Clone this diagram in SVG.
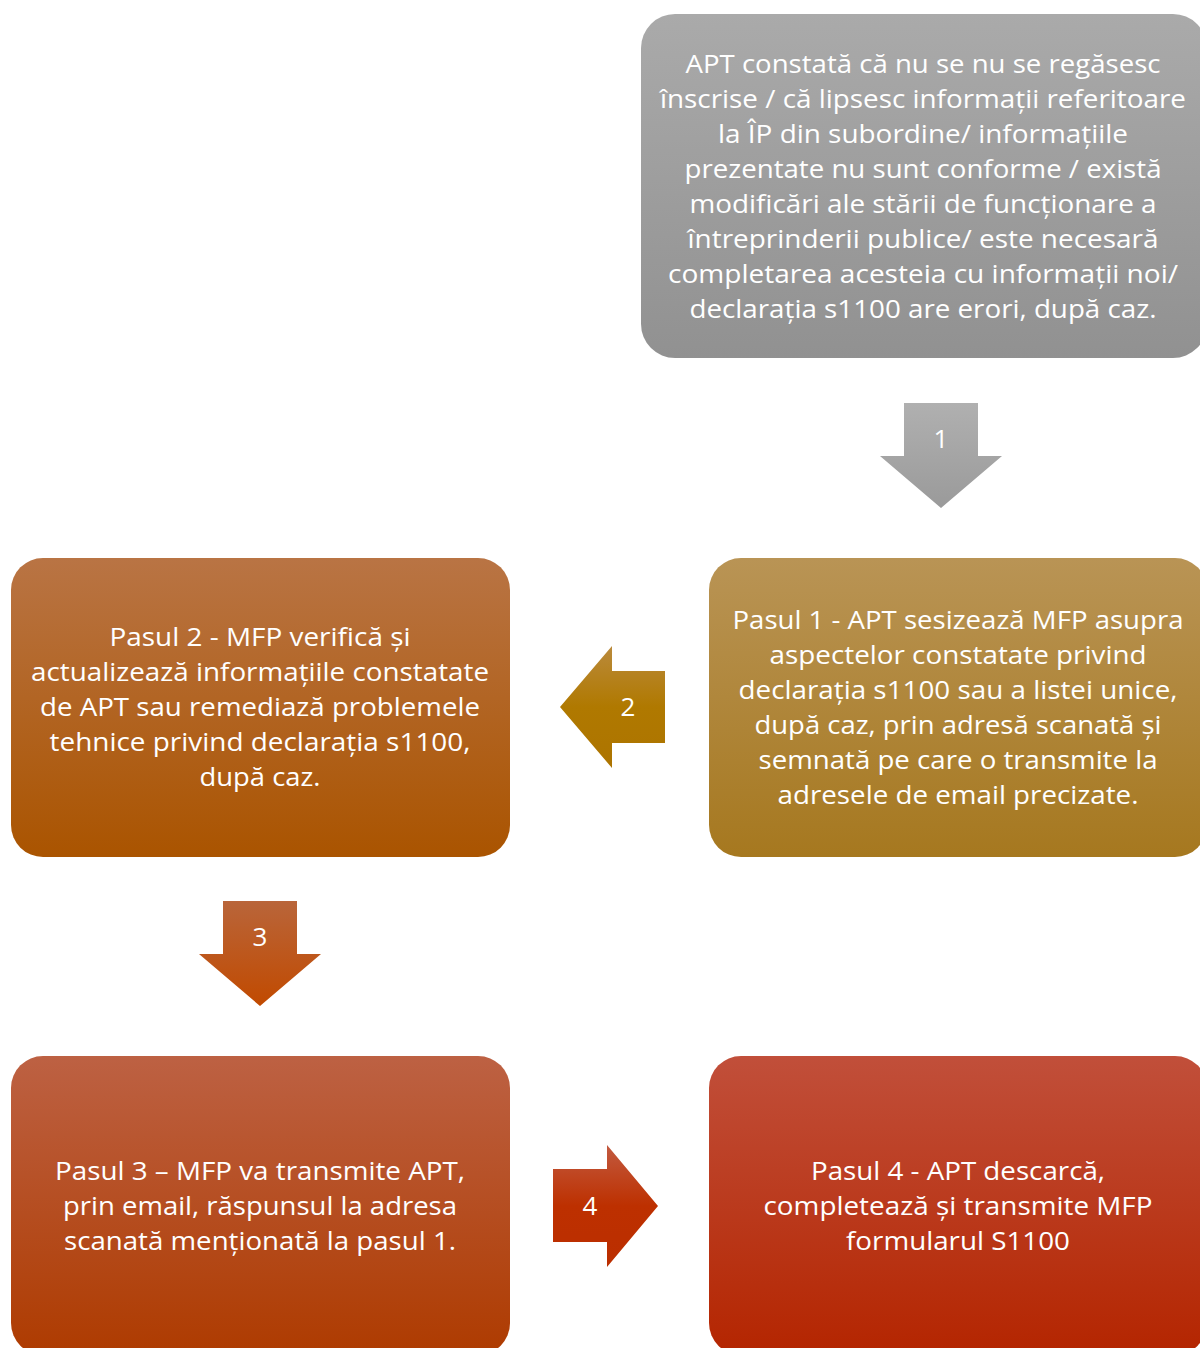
<svg xmlns="http://www.w3.org/2000/svg" width="1200" height="1348" viewBox="0 0 1200 1348">
<defs>
<linearGradient id="g0" x1="0" y1="0" x2="0" y2="1"><stop offset="0" stop-color="#aaaaaa"/><stop offset="1" stop-color="#919191"/></linearGradient>
<linearGradient id="g1" x1="0" y1="0" x2="0" y2="1"><stop offset="0" stop-color="#b99455"/><stop offset="1" stop-color="#a6781f"/></linearGradient>
<linearGradient id="g2" x1="0" y1="0" x2="0" y2="1"><stop offset="0" stop-color="#b97444"/><stop offset="1" stop-color="#aa5400"/></linearGradient>
<linearGradient id="g3" x1="0" y1="0" x2="0" y2="1"><stop offset="0" stop-color="#bd6143"/><stop offset="1" stop-color="#ae3b00"/></linearGradient>
<linearGradient id="g4" x1="0" y1="0" x2="0" y2="1"><stop offset="0" stop-color="#c14f3a"/><stop offset="1" stop-color="#b42500"/></linearGradient>
<linearGradient id="a1" x1="0" y1="0" x2="0" y2="1"><stop offset="0" stop-color="#b0b0b0"/><stop offset="1" stop-color="#9a9a9a"/></linearGradient>
<linearGradient id="a2" x1="0" y1="0" x2="0" y2="1"><stop offset="0" stop-color="#ba8a3c"/><stop offset="0.5" stop-color="#b07900"/><stop offset="1" stop-color="#ad7400"/></linearGradient>
<linearGradient id="a3" x1="0" y1="0" x2="0" y2="1"><stop offset="0" stop-color="#b9653a"/><stop offset="1" stop-color="#c14a00"/></linearGradient>
<linearGradient id="a4" x1="0" y1="0" x2="0" y2="1"><stop offset="0" stop-color="#c25a40"/><stop offset="0.5" stop-color="#bd3000"/><stop offset="1" stop-color="#bb2e00"/></linearGradient>
</defs>
<style>
text{font-family:"Open Sans","Liberation Sans",sans-serif;fill:#ffffff;text-anchor:middle}
.t{font-size:26px}
.n{font-size:26px}
</style>
<rect width="1200" height="1348" fill="#ffffff"/>
<g id="connectors">
<g id="arrow1"><polygon points="904,403 978,403 978,456 1002,456 941,508 880,456 904,456" fill="url(#a1)"/><text class="n" x="941" y="448">1</text></g>
<g id="arrow2"><polygon points="665,671 665,743 612,743 612,768 560,707 612,646 612,671" fill="url(#a2)"/><text class="n" x="628" y="716">2</text></g>
<g id="arrow3"><polygon points="223,901 297,901 297,954 321,954 260,1006 199,954 223,954" fill="url(#a3)"/><text class="n" x="260" y="946">3</text></g>
<g id="arrow4"><polygon points="553,1169 607,1169 607,1145 658,1206 607,1267 607,1242 553,1242" fill="url(#a4)"/><text class="n" x="590" y="1215">4</text></g>
</g>
<g id="node0">
<rect x="641" y="14" width="566" height="344" rx="34" fill="url(#g0)"/>
<text class="t" x="923" y="73" textLength="475" lengthAdjust="spacingAndGlyphs">APT constată că nu se nu se regăsesc</text>
<text class="t" x="923" y="108" textLength="526" lengthAdjust="spacingAndGlyphs">înscrise / că lipsesc informații referitoare</text>
<text class="t" x="923" y="143" textLength="410" lengthAdjust="spacingAndGlyphs">la ÎP din subordine/ informațiile</text>
<text class="t" x="923" y="178" textLength="477" lengthAdjust="spacingAndGlyphs">prezentate nu sunt conforme / există</text>
<text class="t" x="923" y="213" textLength="467" lengthAdjust="spacingAndGlyphs">modificări ale stării de funcționare a</text>
<text class="t" x="923" y="248" textLength="471" lengthAdjust="spacingAndGlyphs">întreprinderii publice/ este necesară</text>
<text class="t" x="923" y="283" textLength="510" lengthAdjust="spacingAndGlyphs">completarea acesteia cu informații noi/</text>
<text class="t" x="923" y="318" textLength="467" lengthAdjust="spacingAndGlyphs">declarația s1100 are erori, după caz.</text>
</g>
<g id="node1">
<rect x="709" y="558" width="498" height="299" rx="32" fill="url(#g1)"/>
<text class="t" x="958" y="629" textLength="451" lengthAdjust="spacingAndGlyphs">Pasul 1 - APT sesizează MFP asupra</text>
<text class="t" x="958" y="664" textLength="377" lengthAdjust="spacingAndGlyphs">aspectelor constatate privind</text>
<text class="t" x="958" y="699" textLength="439" lengthAdjust="spacingAndGlyphs">declarația s1100 sau a listei unice,</text>
<text class="t" x="958" y="734" textLength="407" lengthAdjust="spacingAndGlyphs">după caz, prin adresă scanată și</text>
<text class="t" x="958" y="769" textLength="399" lengthAdjust="spacingAndGlyphs">semnată pe care o transmite la</text>
<text class="t" x="958" y="804" textLength="361" lengthAdjust="spacingAndGlyphs">adresele de email precizate.</text>
</g>
<g id="node2">
<rect x="11" y="558" width="499" height="299" rx="32" fill="url(#g2)"/>
<text class="t" x="260" y="646" textLength="301" lengthAdjust="spacingAndGlyphs">Pasul 2 - MFP verifică și</text>
<text class="t" x="260" y="681" textLength="458" lengthAdjust="spacingAndGlyphs">actualizează informațiile constatate</text>
<text class="t" x="260" y="716" textLength="440" lengthAdjust="spacingAndGlyphs">de APT sau remediază problemele</text>
<text class="t" x="260" y="751" textLength="421" lengthAdjust="spacingAndGlyphs">tehnice privind declarația s1100,</text>
<text class="t" x="260" y="786" textLength="121" lengthAdjust="spacingAndGlyphs">după caz.</text>
</g>
<g id="node3">
<rect x="11" y="1056" width="499" height="299" rx="32" fill="url(#g3)"/>
<text class="t" x="260" y="1180" textLength="410" lengthAdjust="spacingAndGlyphs">Pasul 3 – MFP va transmite APT,</text>
<text class="t" x="260" y="1215" textLength="394" lengthAdjust="spacingAndGlyphs">prin email, răspunsul la adresa</text>
<text class="t" x="260" y="1250" textLength="392" lengthAdjust="spacingAndGlyphs">scanată menționată la pasul 1.</text>
</g>
<g id="node4">
<rect x="709" y="1056" width="498" height="299" rx="32" fill="url(#g4)"/>
<text class="t" x="958" y="1180" textLength="294" lengthAdjust="spacingAndGlyphs">Pasul 4 - APT descarcă,</text>
<text class="t" x="958" y="1215" textLength="389" lengthAdjust="spacingAndGlyphs">completează și transmite MFP</text>
<text class="t" x="958" y="1250" textLength="224" lengthAdjust="spacingAndGlyphs">formularul S1100</text>
</g>
</svg>
